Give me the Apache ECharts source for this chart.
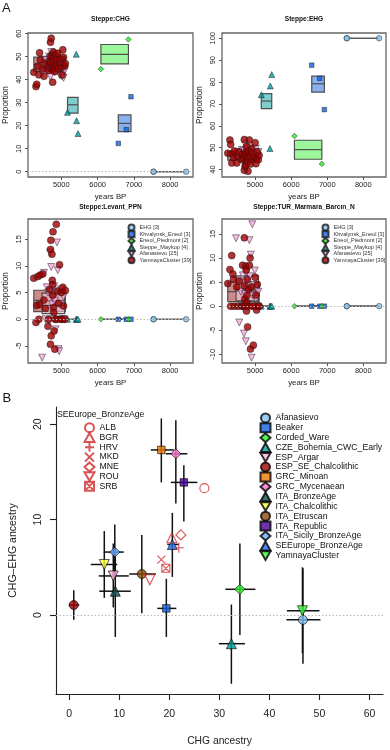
<!DOCTYPE html>
<html>
<head>
<meta charset="utf-8">
<script src="https://cdn.jsdelivr.net/npm/echarts@6/dist/echarts.min.js"></script>
<style>
  html, body { margin: 0; padding: 0; background: #fff; }
  #main { width: 390px; height: 750px; }
</style>
</head>
<body>
<div id="main"></div>
<script>
// ---------- panel A : samples (years BP + proportion in each panel) ----------
var groupsA = ['EHG', 'Khvalynsk_Eneol', 'Eneol_Piedmont', 'Steppe_Maykop', 'Afanasievo', 'YamnayaCluster'];
var countsA = [3, 3, 2, 4, 25, 39];

var ehgYears = [7540, 7545, 8440];
var ehgCHG = [0, 0, 0];
var ehgEHG = [100, 100, 100];
var ehgLevant = [0, 0, 0];
var ehgBarcin = [0, 0, 0];

var khvYears = [6570, 6790, 6920];
var khvCHG = [12.3, 18.3, 32.6];
var khvEHG = [87.7, 81.7, 67.4];
var khvLevant = [0, 0, 0];
var khvBarcin = [0, 0, 0];

var eneYears = [6090, 6850];
var eneCHG = [44.6, 57.5];
var eneEHG = [55.3, 42.6];
var eneLevant = [0, 0];
var eneBarcin = [0, 0];

var mayYears = [5170, 5410, 5420, 5460];
var mayCHG = [25.8, 51.1, 22.2, 16.6];
var mayEHG = [74.2, 49.6, 78.2, 83.4];
var mayLevant = [0, 0, 0, 0];
var mayBarcin = [0, 0, 0, 0];

var afaYears = [4470, 4520, 4560, 4600, 4630, 4660, 4690, 4700, 4720, 4740, 4760, 4780, 4800,
  4820, 4840, 4860, 4880, 4900, 4920, 4940, 4960, 4990, 5020, 5060, 5090];
var afaCHG = [43.0, 46.0, 48.5, 44.0, 47.5, 50.0, 45.5, 41.2, 52.0, 48.0, 44.5, 46.5, 50.5,
  43.5, 47.0, 49.5, 45.0, 51.0, 46.0, 48.0, 42.0, 47.0, 41.5, 40.8, 44.0];
var afaEHG = [46.0, 48.0, 45.0, 47.5, 49.0, 44.5, 48.5, 46.5, 51.5, 47.0, 45.5, 49.5, 44.0,
  48.0, 46.0, 50.0, 47.0, 45.0, 48.5, 49.0, 46.5, 47.5, 49.5, 45.5, 48.0];
var afaLevant = [-7.2, 8.7, 0, 6.0, 5.0, -0.3, 12.5, 5.2, 9.8, 2.8, 4.0, 0, 6.2,
  3.5, -1.9, 5.0, 14.4, 9.2, -5.6, -6.0, 2.8, 5.6, 0, 4.2, 0];
var afaBarcin = [14.1, 5.3, -3.4, 3.0, 0, 6.4, -5.7, 4.8, 2.5, -7.3, 7.0, 5.5, 0,
  3.8, 13.7, 6.2, 10.7, -10.7, 17.0, 2.2, 4.4, 7.4, 1.5, 0, 3.0];

var yamYears = [4240, 4300, 4320, 4350, 4380, 4400, 4420, 4490, 4520, 4560, 4630, 4650, 4670,
  4700, 4700, 4710, 4720, 4740, 4750, 4760, 4760, 4770, 4780, 4790, 4800, 4820,
  4840, 4860, 4870, 4900, 4920, 4950, 4980, 5000, 5020, 5040, 5060, 5090, 5110];
var yamCHG = [43.2, 37.0, 38.0, 45.9, 42.1, 51.7, 48.7, 44.7, 41.5, 47.0, 45.5, 44.0, 48.0,
  56.3, 50.2, 47.5, 58.0, 51.0, 44.3, 38.9, 46.5, 49.5, 52.0, 45.0, 47.8, 43.5,
  50.5, 46.2, 48.8, 51.5, 44.6, 47.2, 49.0, 45.5, 42.0, 53.0, 49.8, 45.9, 47.0];
var yamEHG = [47.5, 53.5, 51.5, 43.0, 47.3, 45.5, 48.5, 43.0, 46.0, 48.0, 44.5, 47.0, 45.0,
  53.7, 39.7, 46.5, 41.5, 42.0, 48.0, 44.0, 50.5, 47.0, 45.5, 43.5, 39.2, 48.5,
  53.5, 46.0, 42.5, 49.5, 47.5, 44.5, 46.0, 52.3, 42.7, 45.0, 48.0, 44.5, 46.5];
var yamLevant = [7.7, -0.6, 2.6, 8.0, 0, 2.8, 8.3, 8.5, 3.6, 2.0, -1.3, 0, 5.6,
  13.1, -4.7, 14.8, -3.1, 12.2, 7.3, 6.5, 4.5, 16.4, 2.2, 1.3, -2.2, -5.6,
  0, 17.8, 0, 5.3, 3.0, 10.2, 0, 5.0, 0, 6.0, 2.5, 0, 5.4];
var yamBarcin = [4.7, 7.6, 0, 10.5, 6.7, 5.6, 0, 4.0, 0, 5.2, 0, 8.5, 0,
  14.2, 4.2, 1.5, 0, 8.3, 7.5, 0.8, -1.0, 2.2, 5.5, -4.3, 0, 3.5,
  8.5, 10.0, -8.9, 4.0, 0, -8.1, 0, 6.0, 2.3, -0.8, 4.5, 0, 0];

// box per group (order of groupsA): [low, mean, high]
var boxCHG = [[0, 0, 0], [17.4, 21.0, 24.7], [46.9, 51.0, 55.3], [25.5, 29.1, 32.3], [44.0, 47.0, 50.2], [43.6, 46.7, 49.8]];
var boxEHG = [[100, 100, 100], [75.4, 79.2, 82.7], [44.7, 49.1, 53.4], [67.8, 71.3, 74.7], [45.0, 47.3, 49.5], [44.3, 46.3, 48.2]];
var boxLevant = [[0, 0, 0], [0, 0, 0], [0, 0, 0], [0, 0, 0], [1.07, 2.6, 4.9], [1.44, 3.56, 5.44]];
var boxBarcin = [[0, 0, 0], [0, 0, 0], [0, 0, 0], [0, 0, 0], [1.1, 3.3, 6.3], [0.95, 3.0, 5.0]];

var yearTicks = [5000, 6000, 7000, 8000];
var ticksCHG = [0, 10, 20, 30, 40, 50, 60];
var ticksEHG = [40, 50, 60, 70, 80, 90, 100];
var ticksLevant = [-5, 0, 5, 10, 15];
var ticksBarcin = [-10, -5, 0, 5, 10, 15];

// ---------- panel B ----------
var bPops = ['Afanasievo', 'Beaker', 'Corded_Ware', 'CZE_Bohemia_CWC_Early', 'ESP_Argar',
  'ESP_SE_Chalcolithic', 'GRC_Minoan', 'GRC_Mycenaean', 'ITA_BronzeAge', 'ITA_Chalcolithic',
  'ITA_Etruscan', 'ITA_Republic', 'ITA_Sicily_BronzeAge', 'SEEurope_BronzeAge', 'YamnayaCluster'];
var bX   = [46.7, 19.4, 34.1, 32.4, 8.8, 0.9, 18.4, 21.3, 9.2, 7.0, 14.5, 22.9, 9.1, 20.6, 46.6];
var bY   = [-0.5, 0.7, 2.7, -3.0, 4.1, 1.05, 17.3, 16.9, 2.5, 5.3, 4.3, 13.9, 6.6, 7.4, 0.45];
var bXlo = [43.4, 17.6, 31.2, 29.9, 5.9, -0.1, 16.3, 19.3, 6.0, 4.3, 12.0, 20.3, 6.9, 19.6, 43.5];
var bXhi = [50.2, 21.4, 37.2, 35.1, 11.9, 2.0, 20.9, 23.6, 12.3, 9.6, 17.3, 25.6, 10.9, 21.9, 50.0];
var bYlo = [-5.1, -2.3, -2.1, -7.2, 0.8, -0.5, 13.9, 11.7, -2.3, 1.8, 0.2, 9.8, 4.0, 4.0, -4.0];
var bYhi = [4.9, 3.8, 7.5, 1.1, 7.5, 2.6, 20.6, 20.4, 7.0, 8.8, 8.4, 15.7, 9.5, 10.7, 5.0];

var subPops = ['ALB', 'BGR', 'HRV', 'MKD', 'MNE', 'ROU', 'SRB'];
var subX = [27.0, 20.5, 21.9, 18.4, 22.3, 16.1, 19.3];
var subY = [13.3, 8.1, 7.05, 5.8, 8.4, 3.7, 4.9];

var bTicksX = [0, 10, 20, 30, 40, 50, 60];
var bTicksY = [0, 10, 20];

// ---------- styling ----------
var FONT = '"Liberation Sans", Arial, Helvetica, sans-serif';
var TRI_DOWN = 'path://M0,0L10,0L5,8.66Z';
var PLUS = 'path://M5,0L5,10M0,5L10,5';
var CROSS = 'path://M0,0L10,10M10,0L0,10';
var BOXCROSS = 'path://M0,0L10,0L10,10L0,10ZM0,0L10,10M10,0L0,10';

var colA = ['#86c3ef', '#1463e0', '#24ee24', '#009a9a', '#f5a6dc', '#9e0000'];
var symA = ['circle', 'rect', 'diamond', 'triangle', TRI_DOWN, 'circle'];
var sizeA = [5.5, 4.5, 5.5, 6, 7, 7];
var fillA = ['rgba(134,195,239,0.5)', 'rgba(20,99,224,0.5)', 'rgba(36,238,36,0.45)',
  'rgba(0,154,154,0.5)', 'rgba(255,205,232,0.55)', 'rgba(165,40,40,0.55)'];

var colB = ['#7ebff0', '#1060e0', '#2cf02c', '#009e9e', '#ffb0e0', '#9e0000', '#ee7700', '#ff6fd0',
  '#0b4d4d', '#ffff40', '#8b4a0a', '#4a0099', '#66aaff', '#1a6ff5', '#33ff33'];
var symB = ['circle', 'rect', 'diamond', 'triangle', TRI_DOWN];
var sizeB = [9, 7.5, 10, 10, 10];

var subSym = ['circle', 'triangle', PLUS, CROSS, 'diamond', TRI_DOWN, BOXCROSS];
var subSize = [9, 10, 10, 8, 10, 10, 8];
var RED = '#cf2b2b';

var gridsA = [
  {left: 28, top: 33, width: 165, height: 144},
  {left: 222, top: 33, width: 164, height: 144},
  {left: 28, top: 219, width: 165, height: 144},
  {left: 222, top: 219, width: 164, height: 144}
];

var groupYears = [ehgYears, khvYears, eneYears, mayYears, afaYears, yamYears];
var panelsA = [
  {title: 'Steppe:CHG', vals: [ehgCHG, khvCHG, eneCHG, mayCHG, afaCHG, yamCHG], box: boxCHG,
    range: [-2.3, 60.3], ticks: ticksCHG, zero: true},
  {title: 'Steppe:EHG', vals: [ehgEHG, khvEHG, eneEHG, mayEHG, afaEHG, yamEHG], box: boxEHG,
    range: [36.6, 102.4], ticks: ticksEHG, zero: false},
  {title: 'Steppe:Levant_PPN', vals: [ehgLevant, khvLevant, eneLevant, mayLevant, afaLevant, yamLevant], box: boxLevant,
    range: [-8.2, 18.8], ticks: ticksLevant, zero: true},
  {title: 'Steppe:TUR_Marmara_Barcın_N', vals: [ehgBarcin, khvBarcin, eneBarcin, mayBarcin, afaBarcin, yamBarcin], box: boxBarcin,
    range: [-11.8, 18.1], ticks: ticksBarcin, zero: true}
];
var namesA = groupsA.map(function (g, i) { return g + ' [' + countsA[i] + ']'; });

function plain(v) { return String(v); }

function renderBox(params, api) {
  var x0 = api.value(0), x1 = api.value(1);
  var lo = api.value(2), mid = api.value(3), hi = api.value(4);
  var g = api.value(5);
  var p0 = api.coord([x0, hi]);
  var p1 = api.coord([x1, lo]);
  var m0 = api.coord([x0, mid]);
  var m1 = api.coord([x1, mid]);
  return {
    type: 'group',
    children: [
      {type: 'rect', shape: {x: p0[0], y: p0[1], width: p1[0] - p0[0], height: p1[1] - p0[1]},
        style: {fill: fillA[g], stroke: '#4f4f4f', lineWidth: 1.2}},
      {type: 'line', shape: {x1: m0[0], y1: m0[1], x2: m1[0], y2: m1[1]},
        style: {stroke: '#4f4f4f', lineWidth: 1.2}}
    ]
  };
}

function renderErr(params, api) {
  var x = api.value(0), y = api.value(1);
  var h0 = api.coord([api.value(2), y]), h1 = api.coord([api.value(3), y]);
  var v0 = api.coord([x, api.value(4)]), v1 = api.coord([x, api.value(5)]);
  return {
    type: 'group',
    children: [
      {type: 'line', shape: {x1: h0[0], y1: h0[1], x2: h1[0], y2: h1[1]}, style: {stroke: '#111', lineWidth: 1.5}},
      {type: 'line', shape: {x1: v0[0], y1: v0[1], x2: v1[0], y2: v1[1]}, style: {stroke: '#111', lineWidth: 1.5}}
    ]
  };
}

function zeroLine() {
  return {
    silent: true, symbol: ['none', 'none'], label: {show: false},
    lineStyle: {color: '#b8b8b8', type: [1.5, 2], width: 1},
    emphasis: {disabled: true},
    data: [{yAxis: 0}]
  };
}

var grid = [], xAxis = [], yAxis = [], series = [];

panelsA.forEach(function (p, pi) {
  grid.push(Object.assign({show: true, borderColor: '#666', borderWidth: 1.3, backgroundColor: 'transparent'}, gridsA[pi]));
  xAxis.push({
    gridIndex: pi, type: 'value', min: 4080, max: 8630,
    axisLine: {show: false, onZero: false},
    axisTick: {show: true, length: 3, customValues: yearTicks, lineStyle: {color: '#555'}},
    axisLabel: {customValues: yearTicks, formatter: plain, fontSize: 7.5, color: '#222', margin: 3.5, fontFamily: FONT},
    splitLine: {show: false},
    name: 'years BP', nameLocation: 'middle', nameGap: 16,
    nameTextStyle: {fontSize: 7.8, color: '#222', fontFamily: FONT}
  });
  yAxis.push({
    gridIndex: pi, type: 'value', min: p.range[0], max: p.range[1],
    axisLine: {show: false, onZero: false},
    axisTick: {show: true, length: 3, customValues: p.ticks, lineStyle: {color: '#555'}},
    axisLabel: {customValues: p.ticks, formatter: plain, fontSize: 7.5, color: '#222', margin: 5, rotate: 90, fontFamily: FONT},
    splitLine: {show: false},
    name: 'Proportion', nameLocation: 'middle', nameGap: 18.5,
    nameTextStyle: {fontSize: 8.2, color: '#222', fontFamily: FONT}
  });

  var boxData = [0, 1, 2, 3, 5, 4].map(function (g) {
    var ys = groupYears[g];
    return [Math.min.apply(null, ys), Math.max.apply(null, ys), p.box[g][0], p.box[g][1], p.box[g][2], g];
  });
  series.push({
    type: 'custom', name: 'box' + pi, xAxisIndex: pi, yAxisIndex: pi, z: 1,
    renderItem: renderBox, data: boxData, silent: true,
    encode: {x: [0, 1], y: [2, 3, 4]}
  });

  groupsA.forEach(function (g, gi) {
    var s = {
      type: 'scatter', name: namesA[gi], xAxisIndex: pi, yAxisIndex: pi, z: 2,
      symbol: symA[gi], symbolSize: sizeA[gi],
      itemStyle: {color: colA[gi], borderColor: '#1a1a1a', borderWidth: 0.6},
      data: groupYears[gi].map(function (yr, k) { return [yr, p.vals[gi][k]]; })
    };
    if (gi === 0 && p.zero) s.markLine = zeroLine();
    series.push(s);
  });
});

// panel B
grid.push({left: 55, top: 407, width: 328, height: 287});
xAxis.push({
  gridIndex: 4, type: 'value', min: -2.65, max: 62.7,
  axisLine: {show: true, onZero: false, lineStyle: {color: '#222', width: 1.1}},
  axisTick: {show: true, length: 6, customValues: bTicksX, lineStyle: {color: '#222', width: 1.1}},
  axisLabel: {customValues: bTicksX, formatter: plain, fontSize: 10.5, color: '#222', margin: 15, fontFamily: FONT},
  splitLine: {show: false},
  name: 'CHG ancestry', nameLocation: 'middle', nameGap: 42,
  nameTextStyle: {fontSize: 10.3, color: '#222', fontFamily: FONT}
});
yAxis.push({
  gridIndex: 4, type: 'value', min: -8.27, max: 21.8,
  axisLine: {show: true, onZero: false, lineStyle: {color: '#222', width: 1.1}},
  axisTick: {show: true, length: 6, customValues: bTicksY, lineStyle: {color: '#222', width: 1.1}},
  axisLabel: {customValues: bTicksY, formatter: plain, fontSize: 10.5, color: '#222', margin: 12, rotate: 90, fontFamily: FONT},
  splitLine: {show: false},
  name: 'CHG–EHG ancestry', nameLocation: 'middle', nameGap: 37,
  nameTextStyle: {fontSize: 10.5, color: '#222', fontFamily: FONT}
});

series.push({
  type: 'custom', name: 'errorbars', xAxisIndex: 4, yAxisIndex: 4, z: 1, silent: true,
  renderItem: renderErr, encode: {x: [0, 2, 3], y: [1, 4, 5]},
  data: bPops.map(function (n, i) { return [bX[i], bY[i], bXlo[i], bXhi[i], bYlo[i], bYhi[i]]; })
});
bPops.forEach(function (n, i) {
  var s = {
    type: 'scatter', name: n, xAxisIndex: 4, yAxisIndex: 4, z: 3,
    symbol: symB[i % 5], symbolSize: sizeB[i % 5],
    itemStyle: {color: colB[i], borderColor: '#000', borderWidth: 0.8},
    data: [[bX[i], bY[i]]]
  };
  if (i === 0) s.markLine = zeroLine();
  series.push(s);
});
subPops.forEach(function (n, i) {
  series.push({
    type: 'scatter', name: n, xAxisIndex: 4, yAxisIndex: 4, z: 4,
    symbol: subSym[i], symbolSize: subSize[i],
    itemStyle: {color: 'rgba(255,255,255,0)', borderColor: RED, borderWidth: 1.1},
    data: [[subX[i], subY[i]]]
  });
});

var legendA = function (left) {
  return {
    data: namesA, left: left, top: 223.5, orient: 'vertical', padding: 0,
    itemWidth: 6, itemHeight: 6, itemGap: -1.3, selectedMode: false,
    textStyle: {fontSize: 5.6, lineHeight: 6.6, color: '#333', fontFamily: FONT}
  };
};

var option = {
  animation: false,
  backgroundColor: '#fff',
  grid: grid,
  xAxis: xAxis,
  yAxis: yAxis,
  legend: [
    legendA(127.5),
    legendA(321.5),
    {
      data: bPops, left: 259.5, top: 412.4, orient: 'vertical', padding: 0,
      itemWidth: 10, itemHeight: 9, itemGap: -1.1, selectedMode: false,
      textStyle: {fontSize: 8.7, lineHeight: 9.8, color: '#111', fontFamily: FONT}
    },
    {
      data: subPops, left: 83.5, top: 422.2, orient: 'vertical', padding: 0,
      itemWidth: 10, itemHeight: 9, itemGap: -1.2, selectedMode: false,
      textStyle: {fontSize: 8.7, lineHeight: 9.7, color: '#111', fontFamily: FONT}
    }
  ],
  graphic: [
    {type: 'text', x: 2, y: 8, style: {text: 'A', font: '13px ' + FONT, fill: '#111', textVerticalAlign: 'middle'}},
    {type: 'text', x: 2.5, y: 398, style: {text: 'B', font: '13px ' + FONT, fill: '#111', textVerticalAlign: 'middle'}},
    {type: 'text', x: 110.5, y: 19.3, style: {text: panelsA[0].title, font: 'bold 6.6px ' + FONT, fill: '#111', textAlign: 'center', textVerticalAlign: 'middle'}},
    {type: 'text', x: 304, y: 19.3, style: {text: panelsA[1].title, font: 'bold 6.6px ' + FONT, fill: '#111', textAlign: 'center', textVerticalAlign: 'middle'}},
    {type: 'text', x: 110.5, y: 207.3, style: {text: panelsA[2].title, font: 'bold 6.6px ' + FONT, fill: '#111', textAlign: 'center', textVerticalAlign: 'middle'}},
    {type: 'text', x: 304, y: 207.3, style: {text: panelsA[3].title, font: 'bold 6.6px ' + FONT, fill: '#111', textAlign: 'center', textVerticalAlign: 'middle'}},
    {type: 'text', x: 57, y: 415, style: {text: 'SEEurope_BronzeAge', font: '8.7px ' + FONT, fill: '#111', textVerticalAlign: 'middle'}}
  ],
  series: series
};

var chart = echarts.init(document.getElementById('main'));
chart.setOption(option);
</script>
</body>
</html>
